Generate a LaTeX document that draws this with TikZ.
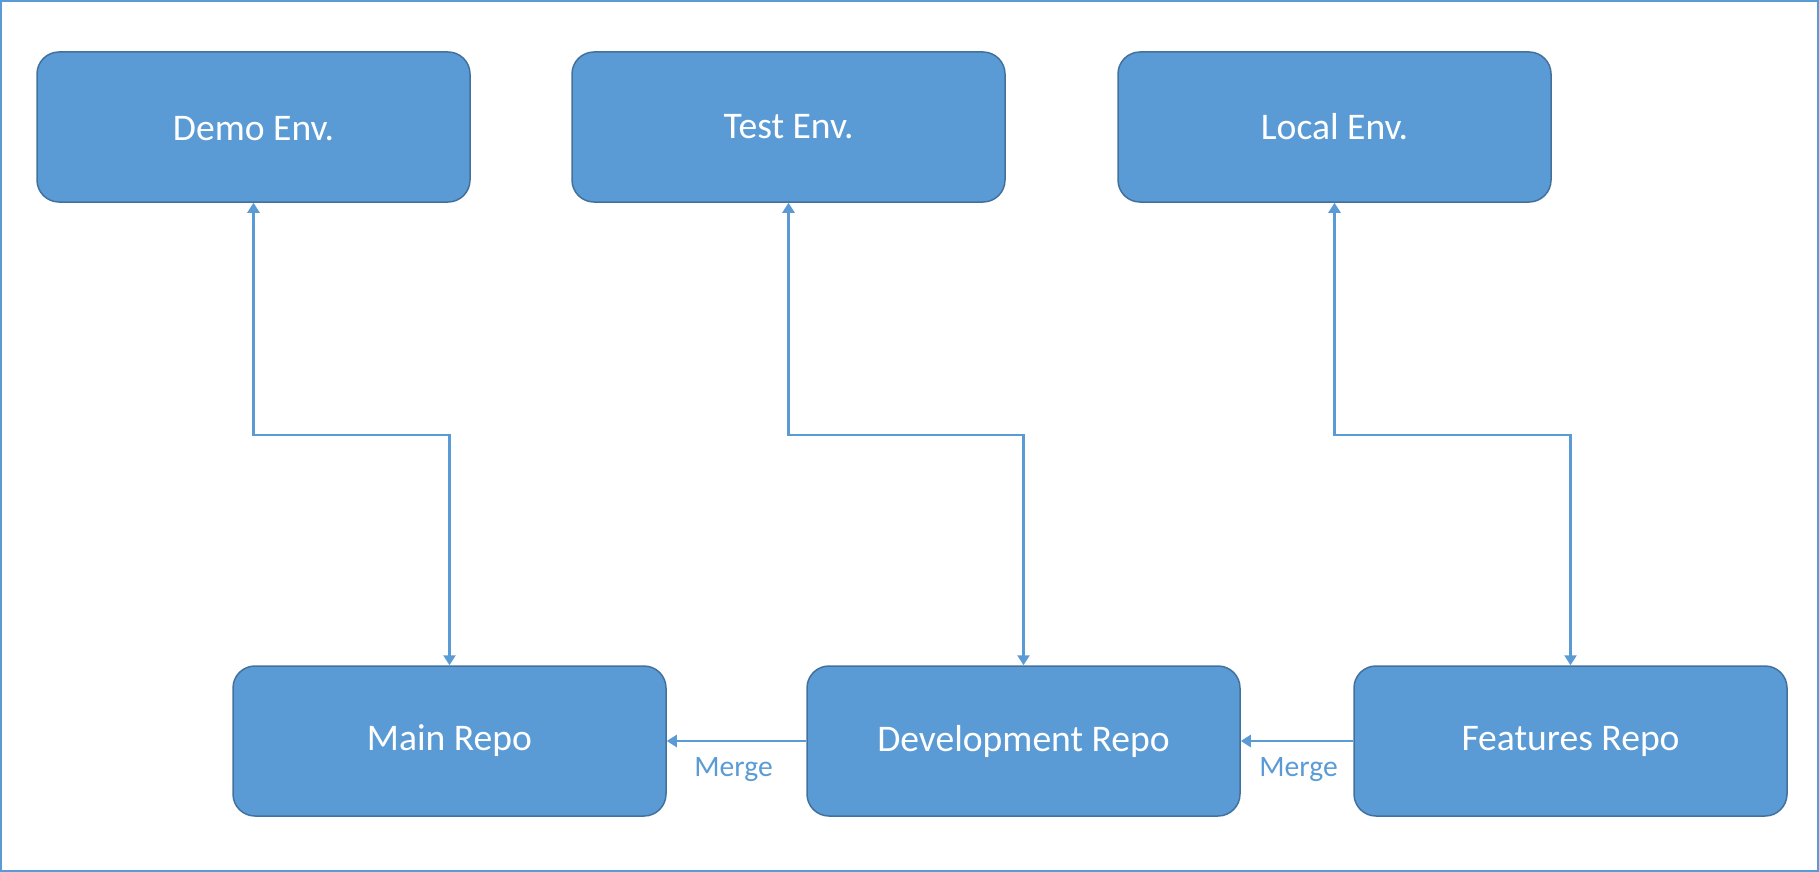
\documentclass[tikz,border=0pt]{standalone}
\usepackage{fontspec}
\setmainfont{Carlito}
\usetikzlibrary{arrows.meta}
\definecolor{boxfill}{HTML}{5B9BD5}
\definecolor{boxline}{HTML}{41719C}
\begin{document}
\begin{tikzpicture}[x=0.5pt,y=-0.5pt,
  box/.style={draw=boxline, line width=0.75pt, fill=boxfill, rounded corners=11pt,
    minimum width=216.5pt, minimum height=75pt, inner sep=0pt, text=white,
    font=\fontsize{18.8}{22}\selectfont},
  conn/.style={draw=boxfill, line width=1.2pt, {Triangle[length=5pt,width=6pt]}-{Triangle[length=5pt,width=6pt]}},
  merge/.style={draw=boxfill, line width=1.2pt, -{Triangle[length=5pt,width=6pt]}},
  lbl/.style={text=boxfill, font=\fontsize{14.8}{17}\selectfont, inner sep=0pt, anchor=north west}]
\useasboundingbox (0,0) rectangle (1819,872);
\draw[boxfill, line width=1pt] (1,1) rectangle (1818,871);
\node[box, text depth=0pt] (demo) at (253.5,127) {\raisebox{-1.5pt}{Demo Env.}};
\node[box] (test) at (788.5,127) {\raisebox{-1.5pt}{Test Env.}};
\node[box] (local) at (1334.5,127) {\raisebox{-1.5pt}{Local Env.}};
\node[box] (main) at (449.5,741) {\raisebox{-1.5pt}{Main Repo}};
\node[box] (dev) at (1023.5,741) {\raisebox{-1.5pt}{Development Repo}};
\node[box] (feat) at (1570.5,741) {\raisebox{-1.5pt}{Features Repo}};
\coordinate (j1) at (0,435);
\draw[conn] (demo.south) |- (j1 -| main.north) -- (main.north);
\draw[conn] (test.south) |- (j1 -| dev.north) -- (dev.north);
\draw[conn] (local.south) |- (j1 -| feat.north) -- (feat.north);
\draw[merge] (dev.west) -- (main.east);
\draw[merge] (feat.west) -- (dev.east);
\node[lbl] (m1) at (694,757) {Merge};
\node[lbl] (m2) at (1259,757) {Merge};
\end{tikzpicture}
\end{document}
